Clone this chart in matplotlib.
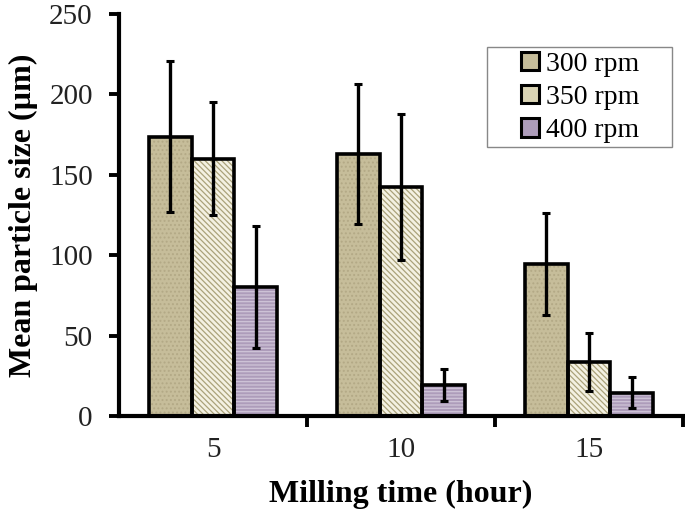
import numpy as np
import matplotlib
matplotlib.use("Agg")
import matplotlib.pyplot as plt
from matplotlib.patches import Patch, Rectangle

# values
milling_time = ["5", "10", "15"]
series_names = ["300 rpm", "350 rpm", "400 rpm"]
size_300 = [173.5, 163, 94.5]
size_350 = [160, 142.5, 33.5]
size_400 = [80, 19, 14.5]
err_300 = [47, 43.5, 31.5]
err_350 = [35, 45.5, 18]
err_400 = [38, 10, 9.5]

means = [size_300, size_350, size_400]
errors = [err_300, err_350, err_400]
fills = ["#c6bd9a", "#f4f1e2", "#ad9cba"]
hatch_colors = ["#b3a986", "#aaa27a", "#cfc4d8"]
hatches = ["....", "\\\\\\\\\\\\", "-----"]

plt.rcParams["font.family"] = ["Liberation Serif", "DejaVu Serif"]
plt.rcParams["hatch.linewidth"] = 0.9

fig = plt.figure(figsize=(6.85, 5.11), dpi=100)
ax = fig.add_axes([0.174, 0.186, 0.823, 0.787])

x = np.arange(1, len(milling_time) + 1)
width = 0.227
for i in range(3):
    pos = x + (i - 1) * width
    # hatch layer (edge colour drives hatch colour), then black outline on top
    ax.bar(pos, means[i], width, color=fills[i], edgecolor=hatch_colors[i],
           hatch=hatches[i], linewidth=0, zorder=2)
    ax.bar(pos, means[i], width, fill=False, edgecolor="black",
           linewidth=2.6, zorder=3)
    ax.errorbar(pos, means[i], yerr=errors[i], fmt="none", ecolor="black",
                elinewidth=2.4, capsize=3, capthick=2.2, zorder=4)

ax.set_xlim(0.5, 3.5)
ax.set_ylim(0, 250)
ax.set_yticks([0, 50, 100, 150, 200, 250])

# group boundaries carry the tick marks, labels sit at the group centres
ax.set_xticks([1.5, 2.5, 3.5])
ax.set_xticklabels([])
ax.set_xticks(x, minor=True)
ax.set_xticklabels(milling_time, minor=True)
ax.tick_params(axis="x", which="major", direction="out", length=8, width=2.8)
ax.tick_params(axis="x", which="minor", length=0, pad=15, labelsize=21,
               labelcolor="#222222")
ax.tick_params(axis="y", direction="out", length=7, width=2.8, pad=12,
               labelsize=21, labelcolor="#222222")

for side in ["top", "right"]:
    ax.spines[side].set_visible(False)
for side in ["left", "bottom"]:
    ax.spines[side].set_linewidth(3)

ax.set_xlabel("Milling time (hour)", fontsize=23, fontweight="bold", labelpad=12)
ax.set_ylabel("Mean particle size (\u00b5m)", fontsize=23, fontweight="bold",
              labelpad=8)

handles = [Patch(facecolor=fills[i], edgecolor="black", linewidth=2.2,
                 label=series_names[i]) for i in range(3)]
handles[1] = Patch(facecolor="#d9d3b4", edgecolor="black", linewidth=2.2,
                   label=series_names[1])
leg = ax.legend(handles=handles, loc="center", bbox_to_anchor=(0.818, 0.792),
                fontsize=20, frameon=False, handlelength=0.65,
                handleheight=0.65, handletextpad=0.25, borderpad=0,
                labelspacing=0.3, borderaxespad=0)
# wide legend frame as in the reference
ax.add_patch(Rectangle((0.652, 0.669), 0.328, 0.248, transform=ax.transAxes,
                       fill=False, edgecolor="#888888", linewidth=1.0,
                       zorder=5, clip_on=False))

fig.savefig("out.png", dpi=100)
